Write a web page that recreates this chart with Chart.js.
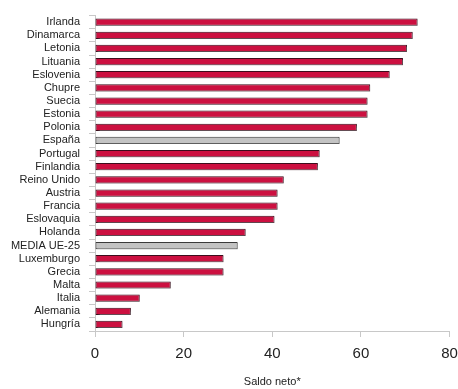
<!DOCTYPE html>
<html>
<head>
<meta charset="utf-8">
<script src="https://cdn.jsdelivr.net/npm/chart.js@4"></script>
<style>
  html, body { margin: 0; padding: 0; background: #fff; }
  #wrap { width: 458px; height: 389px; }
</style>
</head>
<body>
<div id="wrap"><canvas id="saldoChart" width="458" height="389"></canvas></div>
<script>
const paises = ['Irlanda', 'Dinamarca', 'Letonia', 'Lituania', 'Eslovenia', 'Chupre', 'Suecia', 'Estonia',
    'Polonia', 'España', 'Portugal', 'Finlandia', 'Reino Unido', 'Austria', 'Francia', 'Eslovaquia',
    'Holanda', 'MEDIA UE-25', 'Luxemburgo', 'Grecia', 'Malta', 'Italia', 'Alemania', 'Hungría'];
const saldoNeto = [72.8, 71.7, 70.4, 69.5, 66.5, 62.1, 61.5, 61.5,
    59.1, 55.2, 50.7, 50.3, 42.6, 41.2, 41.2, 40.5,
    34.0, 32.2, 29.0, 29.0, 17.1, 10.1, 8.1, 6.2];
const destacados = ['España', 'MEDIA UE-25'];
const xTicks = [0, 20, 40, 60, 80];

const fillColors = paises.map(p => destacados.includes(p) ? '#c3c3c3' : '#cc1040');
const borderColors = paises.map(p => destacados.includes(p) ? '#3a3a3a' : '#3d0d1c');

// sombra gris debajo de las barras
const shadowPlugin = {
    id: 'barShadow',
    beforeDatasetsDraw(chart) {
        const ctx = chart.ctx;
        ctx.save();
        ctx.shadowColor = 'rgba(140,140,140,0.5)';
        ctx.shadowOffsetX = 1;
        ctx.shadowOffsetY = 1;
        ctx.shadowBlur = 1;
    },
    afterDatasetsDraw(chart) {
        chart.ctx.restore();
    }
};

const ctx = document.getElementById('saldoChart').getContext('2d');
new Chart(ctx, {
    type: 'bar',
    data: {
        labels: paises,
        datasets: [{
            data: saldoNeto,
            backgroundColor: fillColors,
            borderColor: borderColors,
            borderWidth: 1,
            borderSkipped: false,
            barPercentage: 0.55,
            categoryPercentage: 1
        }]
    },
    options: {
        indexAxis: 'y',
        responsive: false,
        animation: false,
        layout: { padding: { top: 11, right: 0, left: 0, bottom: 0 } },
        plugins: {
            legend: { display: false },
            tooltip: { enabled: false }
        },
        scales: {
            y: {
                afterFit: s => { s.width = 95; },
                border: { color: '#c8c8c8', width: 1 },
                grid: { drawOnChartArea: false, color: '#c8c8c8', tickLength: 6, offset: true },
                ticks: {
                    color: '#222',
                    padding: 9,
                    autoSkip: false,
                    font: { family: 'Liberation Sans, Arial', size: 11 }
                }
            },
            x: {
                min: 0,
                max: 80,
                afterFit: s => { s.height = 58; s.paddingRight = 8.5; },
                afterBuildTicks: s => { s.ticks = xTicks.map(v => ({ value: v })); },
                border: { color: '#c8c8c8', width: 1 },
                grid: { drawOnChartArea: false, color: '#c8c8c8', tickLength: 6 },
                ticks: {
                    color: '#222',
                    padding: 8,
                    maxRotation: 0,
                    font: { family: 'Liberation Sans, Arial', size: 15 }
                },
                title: {
                    display: true,
                    text: 'Saldo neto*',
                    color: '#222',
                    padding: { top: 4, bottom: 0 },
                    font: { family: 'Liberation Sans, Arial', size: 11 }
                }
            }
        }
    },
    plugins: [shadowPlugin]
});
</script>
</body>
</html>
